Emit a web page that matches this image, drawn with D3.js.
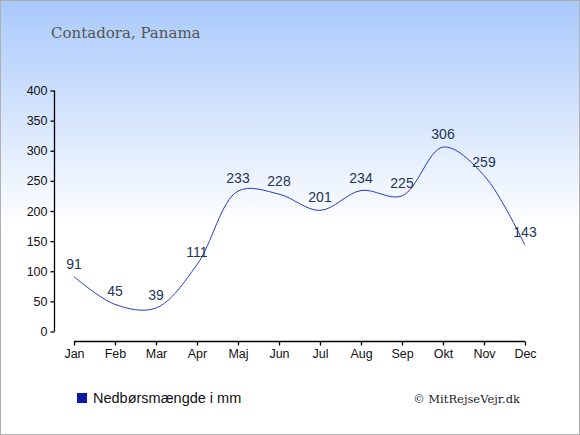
<!DOCTYPE html>
<html>
<head>
<meta charset="utf-8">
<script src="https://cdn.jsdelivr.net/npm/d3@7"></script>
<style>
  body { margin: 0; background: #fff; }
  svg { display: block; }
</style>
</head>
<body>
<svg width="580" height="435"></svg>
<script>
var months = ["Jan", "Feb", "Mar", "Apr", "Maj", "Jun", "Jul", "Aug", "Sep", "Okt", "Nov", "Dec"];
var rain = [91, 45, 39, 111, 233, 228, 201, 234, 225, 306, 259, 143];
var yTicks = [0, 50, 100, 150, 200, 250, 300, 350, 400];
var title = "Contadora, Panama";
var legendLabel = "Nedbørsmængde i mm";
var credit = "© MitRejseVejr.dk";

var svg = d3.select("svg"),
    width = +svg.attr("width"),
    height = +svg.attr("height");

// background gradient
var defs = svg.append("defs");
var grad = defs.append("linearGradient")
    .attr("id", "bg")
    .attr("x1", 0).attr("y1", 0).attr("x2", 0).attr("y2", 1);
grad.append("stop").attr("offset", "0%").attr("stop-color", "#a9c9fb");
grad.append("stop").attr("offset", "52%").attr("stop-color", "#ffffff");
grad.append("stop").attr("offset", "100%").attr("stop-color", "#ffffff");

svg.append("rect")
    .attr("x", 0.5).attr("y", 0.5)
    .attr("width", width - 1).attr("height", height - 1)
    .style("fill", "url(#bg)")
    .style("stroke", "#b0b0b0");

var x = d3.scalePoint()
    .domain(months)
    .range([74, 525]);

var y = d3.scaleLinear()
    .domain([0, 400])
    .range([331.5, 90.5]);

// y axis
var yAxis = svg.append("g")
    .attr("transform", "translate(54.5,0)")
    .call(d3.axisLeft(y).tickValues(yTicks).tickSize(4).tickPadding(3).tickSizeOuter(0));
yAxis.select(".domain").attr("d", "M0," + y(400) + "V" + y(0));

// x axis
var xAxis = svg.append("g")
    .attr("transform", "translate(0,341.5)")
    .call(d3.axisBottom(x).tickSize(4).tickPadding(4).tickSizeOuter(0));
xAxis.select(".domain").attr("d", "M" + x("Jan") + ",0H" + x("Dec"));

svg.selectAll(".tick text")
    .style("font-family", "Liberation Sans, Arial, sans-serif")
    .style("font-size", "12.5px")
    .style("fill", "#111");
svg.selectAll(".domain, .tick line")
    .style("stroke", "#000")
    .style("stroke-width", 1.3);

// line
var line = d3.line()
    .x(function(d, i) { return x(months[i]); })
    .y(function(d) { return y(d); })
    .curve(d3.curveCatmullRom.alpha(0.5));

svg.append("path")
    .datum(rain)
    .attr("d", line)
    .style("fill", "none")
    .style("stroke", "#2a3bc0")
    .style("stroke-width", 1);

// value labels
svg.selectAll(".val")
    .data(rain)
    .enter()
    .append("text")
    .attr("class", "val")
    .attr("x", function(d, i) { return x(months[i]); })
    .attr("y", function(d) { return y(d) - 8; })
    .attr("text-anchor", "middle")
    .style("font-family", "Liberation Sans, Arial, sans-serif")
    .style("font-size", "14px")
    .style("fill", "#233555")
    .text(function(d) { return d; });

// title
svg.append("text")
    .attr("x", 51)
    .attr("y", 38)
    .style("font-family", "DejaVu Serif, Georgia, serif")
    .style("font-size", "15px")
    .style("fill", "#555")
    .text(title);

// legend
svg.append("rect")
    .attr("x", 77).attr("y", 393)
    .attr("width", 10).attr("height", 10)
    .style("fill", "#0a1aa8");
svg.append("text")
    .attr("x", 93)
    .attr("y", 403)
    .style("font-family", "Liberation Sans, Arial, sans-serif")
    .style("font-size", "14.5px")
    .style("fill", "#111")
    .text(legendLabel);

svg.append("text")
    .attr("x", 520)
    .attr("y", 403)
    .attr("text-anchor", "end")
    .style("font-family", "DejaVu Serif, Georgia, serif")
    .style("font-size", "11.5px")
    .style("fill", "#222")
    .text(credit);
</script>
</body>
</html>
